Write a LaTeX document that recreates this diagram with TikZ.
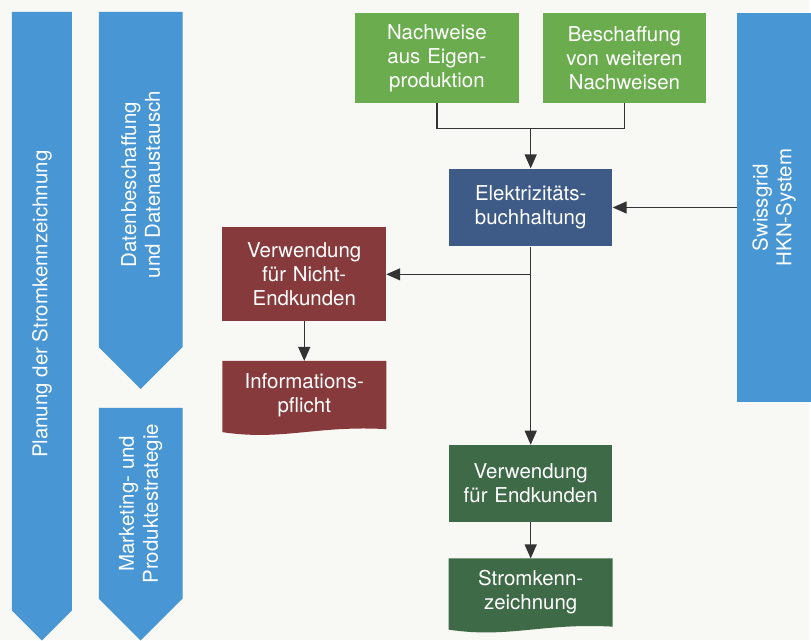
\documentclass[tikz,border=0pt]{standalone}
\usepackage{fontspec}
\setmainfont{TeX Gyre Heros}
\usetikzlibrary{positioning, arrows.meta, calc, backgrounds}
\definecolor{paper}{HTML}{F8F8F5}
\definecolor{chevblue}{HTML}{4896D4}
\definecolor{leafgreen}{HTML}{6AAC4E}
\definecolor{slateblue}{HTML}{3E5A87}
\definecolor{wine}{HTML}{873A3C}
\definecolor{pine}{HTML}{3E6A48}
\definecolor{linegray}{HTML}{333333}
\tikzset{box/.style={minimum width=164pt, text width=158pt, align=center, inner sep=0pt,
                     text=white, font=\fontsize{20.5}{24}\selectfont},
         doc/.style={box, fill=none},
         chev/.style={rotate=90, align=center, inner sep=0pt, text=white,
                      font=\fontsize{20.5}{24}\selectfont},
         link/.style={draw=linegray, line width=1.3pt},
         flow/.style={link, -{Triangle[length=14pt,width=12pt]}},
        }

\begin{document}
\begin{tikzpicture}[x=1pt,y=-1pt]
        \begin{scope}[on background layer]
            \fill[paper] (0,0) rectangle (811,642);
        \end{scope}

        % left chevrons
        \fill[chevblue] (12,12) -- (72,12) -- (72,612) -- (42,642) -- (12,612) -- cycle;
        \fill[chevblue] (99,12) -- (183,12) -- (183,348) -- (141,390) -- (99,348) -- cycle;
        \fill[chevblue] (99,409) -- (183,409) -- (183,600) -- (141,642) -- (99,600) -- cycle;
        \node[chev](planung)at(42,305){Planung der Stromkennzeichnung};
        \node[chev](daten)at(141,185){Datenbeschaffung\\und Datenaustausch};
        \node[chev](marketing)at(141,505){Marketing- und\\Produktestrategie};

        \node[chev, fill=chevblue, minimum width=390pt, minimum height=74pt](swiss)at(776,208){Swissgrid\\HKN-System};

        \node[box, fill=leafgreen, minimum height=90pt](eigen)at(438,58){Nachweise\\aus Eigen-\\produktion};
        \node[box, fill=leafgreen, minimum height=90pt](weitere)at(626,58){Beschaffung\\von weiteren\\Nachweisen};
        \node[box, fill=slateblue, minimum height=78pt](buch)at(532,208){Elektrizitäts-\\buchhaltung};
        \node[box, fill=wine, minimum height=94pt](nicht)at(305,275){Verwendung\\für Nicht-\\Endkunden};
        \node[doc, minimum height=68pt](info)at(305,396){Informations-\\pflicht};
        \node[box, fill=pine, minimum height=77pt](endk)at(532,484.5){Verwendung\\für Endkunden};
        \node[doc, minimum height=68pt](strom)at(532,594){Stromkenn-\\zeichnung};

        % document shapes with wavy bottom
        \begin{scope}[on background layer]
            \fill[wine] (info.north west) -- (info.north east) -- (info.south east)
                .. controls ($(info.south east)+(-70,-4)$) and ($(info.south west)+(60,12)$) .. ($(info.south west)+(0,3)$) -- cycle;
            \fill[pine] (strom.north west) -- (strom.north east) -- (strom.south east)
                .. controls ($(strom.south east)+(-70,-4)$) and ($(strom.south west)+(60,12)$) .. ($(strom.south west)+(0,3)$) -- cycle;
        \end{scope}

        \coordinate (merge) at (532,129);
        \draw[link](eigen.south) |- (merge) -| (weitere.south);
        \draw[flow](merge)--(buch.north);
        \draw[flow](swiss)--(buch);
        \draw[flow](buch.south)--(endk.north);
        \draw[flow](buch.south |- nicht.east)--(nicht.east);
        \draw[flow](nicht.south)--(info.north);
        \draw[flow](endk.south)--(strom.north);
    \end{tikzpicture}
\end{document}
